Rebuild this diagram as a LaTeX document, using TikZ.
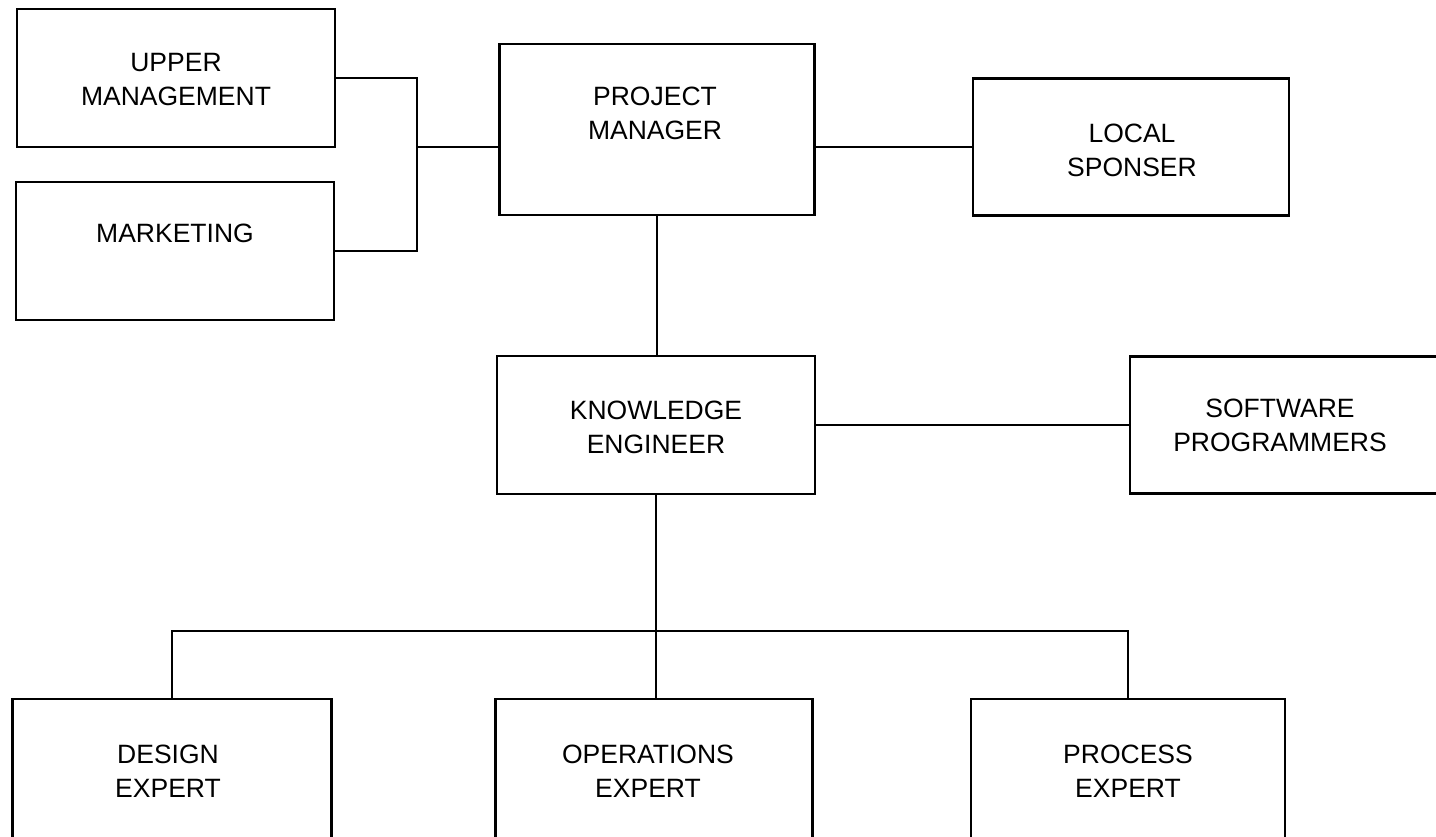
\documentclass[tikz,border=0pt]{standalone}
\usepackage{fontspec}
\setmainfont{Liberation Sans}
\begin{document}
\begin{tikzpicture}[x=1pt, y=-1pt,
        unit/.style={draw, line width=2.6pt, minimum width=318pt, minimum height=138pt, inner sep=0pt},
        caption/.style={align=center, inner sep=0pt, font=\fontsize{26.5}{34}\selectfont},
        link/.style={line width=2.6pt}]
        \useasboundingbox (0,0) rectangle (1436,837);
        \clip (0,0) rectangle (1436,837);
        % boxes
        \node [unit] (um) at (176,78) {};
        \node [unit] (mkt) at (175,251) {};
        \node [unit, minimum width=315pt, minimum height=171pt] (pm) at (657,129.5) {};
        \node [unit, minimum width=316pt, minimum height=137pt] (ls) at (1131,147) {};
        \node [unit] (ke) at (656,425) {};
        \node [unit, minimum width=316pt, minimum height=137pt] (sw) at (1288,425) {};
        \node [unit, minimum width=319pt, minimum height=140pt] (des) at (172,769) {};
        \node [unit, minimum width=317pt, minimum height=140pt] (ops) at (654,769) {};
        \node [unit, minimum width=314pt, minimum height=140pt] (proc) at (1128,769) {};
        % texts
        \node [caption] (um-t) at (176,80) {UPPER\\MANAGEMENT};
        \node [caption] (mkt-t) at (175,233) {MARKETING};
        \node [caption] (pm-t) at (655,113.5) {PROJECT\\MANAGER};
        \node [caption] (ls-t) at (1132,150) {LOCAL\\SPONSER};
        \node [caption] (ke-t) at (656,427) {KNOWLEDGE\\ENGINEER};
        \node [caption] (sw-t) at (1280,425) {SOFTWARE\\PROGRAMMERS};
        \node [caption] (des-t) at (168,771) {DESIGN\\EXPERT};
        \node [caption] (ops-t) at (648,771) {OPERATIONS\\EXPERT};
        \node [caption] (proc-t) at (1128,771) {PROCESS\\EXPERT};
        % connectors
        \coordinate (jn) at (417,147);
        \coordinate (bus) at (656,631);
        \draw [link] (um.east) -| (jn) |- (mkt.east);
        \draw [link] (jn) -- (jn -| pm.west);
        \draw [link] (pm.east |- ls.west) -- (ls.west);
        \draw [link] (pm.south) -- (pm.south |- ke.north);
        \draw [link] (ke.east) -- (sw.west);
        \draw [link] (ke.south) -- (bus);
        \draw [link] (des.north) |- (bus) -| (proc.north);
        \draw [link] (bus) -- (bus |- ops.north);
    \end{tikzpicture}
\end{document}
